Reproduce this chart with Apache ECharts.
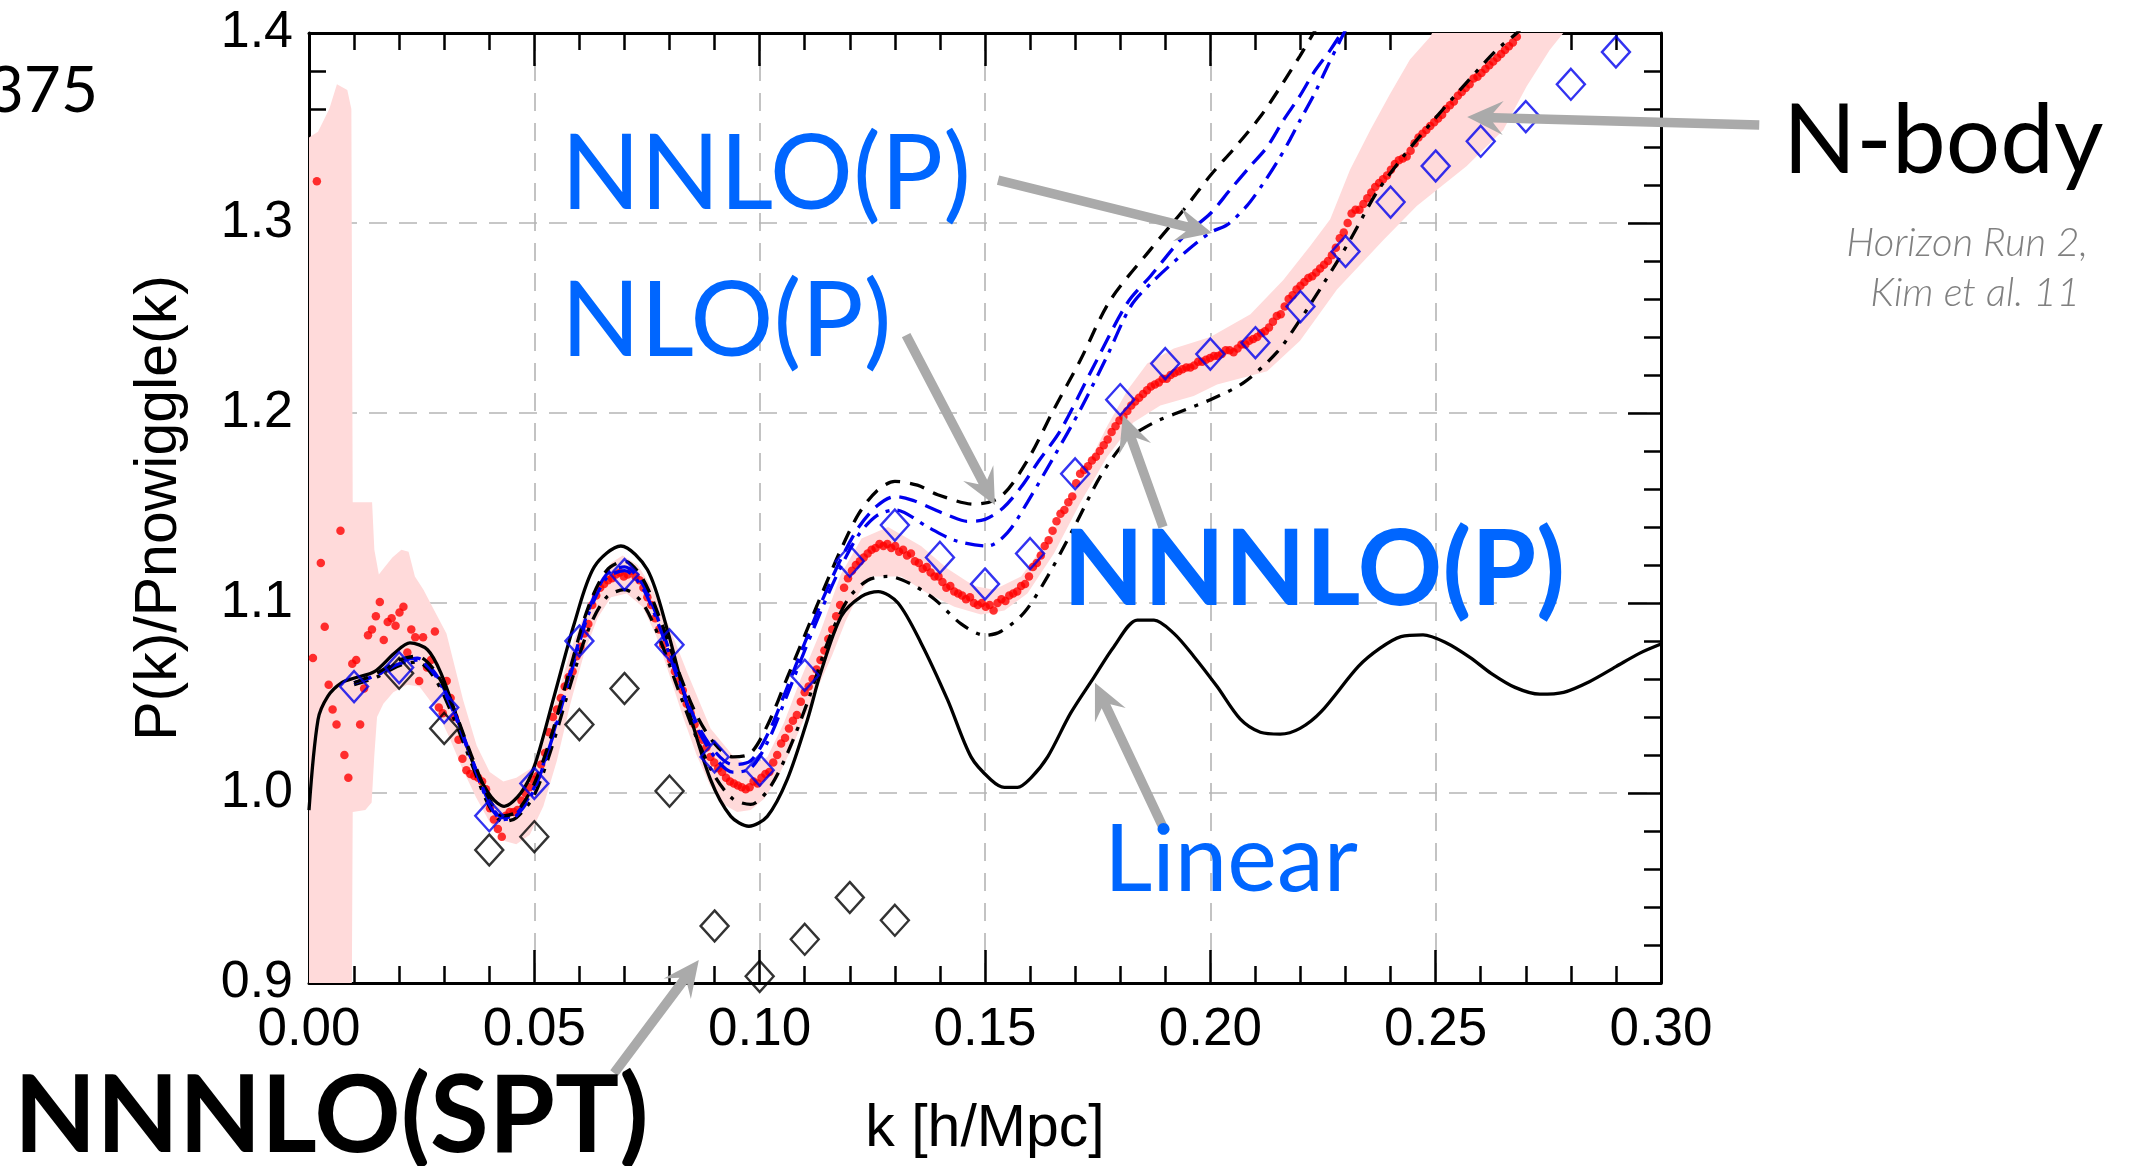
<!DOCTYPE html>
<html><head><meta charset="utf-8">
<script src="https://cdn.jsdelivr.net/npm/echarts/dist/echarts.min.js"></script>
<style>html,body{margin:0;padding:0;background:#fff}#c{width:2132px;height:1166px}</style>
</head><body><div id="c"></div><script>
// ---------- data ----------
const xTickLabels = ['0.00','0.05','0.10','0.15','0.20','0.25','0.30'];
const yTickLabels = ['0.9','1.0','1.1','1.2','1.3','1.4'];

// Linear theory
const linear = [[0,0.991],[0.002,1.0386],[0.0042,1.051],[0.0072,1.058],[0.0101,1.0605],[0.0146,1.064],[0.019,1.0737],[0.0224,1.079],[0.0263,1.0754],[0.0293,1.063],[0.033,1.0386],[0.0367,1.014],[0.0404,0.998],[0.0433,0.993],[0.047,1.0],[0.05,1.014],[0.0544,1.051],[0.0589,1.0895],[0.0633,1.119],[0.0692,1.13],[0.0751,1.1175],[0.0795,1.086],[0.084,1.0456],[0.0891,1.007],[0.0936,0.9877],[0.0976,0.9825],[0.1017,0.9877],[0.1061,1.007],[0.1106,1.0386],[0.1135,1.063],[0.1181,1.093],[0.1226,1.1035],[0.1263,1.106],[0.1307,1.1],[0.1358,1.079],[0.1417,1.049],[0.1469,1.019],[0.1513,1.007],[0.1543,1.003],[0.1572,1.003],[0.1602,1.008],[0.1639,1.019],[0.169,1.042],[0.1742,1.061],[0.1786,1.077],[0.1838,1.091],[0.1875,1.091],[0.1919,1.084],[0.1963,1.072],[0.2015,1.056],[0.2066,1.039],[0.2111,1.032],[0.2155,1.031],[0.2199,1.034],[0.2246,1.0428],[0.2328,1.0665],[0.2376,1.0761],[0.2423,1.0823],[0.2472,1.0832],[0.2523,1.0791],[0.2576,1.0714],[0.2623,1.063],[0.2676,1.0556],[0.2731,1.052],[0.2784,1.053],[0.2841,1.0586],[0.29,1.0665],[0.2952,1.0735],[0.3,1.0784]];

// black dashed (upper)
const nnloBlack = [[0.010,1.058],[0.015,1.063],[0.020,1.070],[0.024,1.072],[0.028,1.064],[0.032,1.045],[0.036,1.020],[0.040,0.997],[0.043,0.988],[0.046,0.990],[0.050,1.005],[0.054,1.032],[0.058,1.066],[0.062,1.098],[0.066,1.117],[0.070,1.122],[0.074,1.113],[0.078,1.091],[0.082,1.064],[0.086,1.041],[0.090,1.026],[0.094,1.019],[0.098,1.021],[0.102,1.037],[0.106,1.060],[0.110,1.083],[0.114,1.106],[0.118,1.128],[0.122,1.147],[0.126,1.159],[0.130,1.164],[0.135,1.162],[0.1395,1.157],[0.1476,1.152],[0.1535,1.156],[0.1594,1.175],[0.1653,1.202],[0.1712,1.228],[0.1777,1.259],[0.1867,1.286],[0.1941,1.307],[0.200,1.325],[0.2052,1.339],[0.2111,1.356],[0.2162,1.374],[0.2199,1.388],[0.2229,1.400],[0.226,1.412]];

// blue dashed
const nnloBlue = [[0.010,1.058],[0.015,1.062],[0.020,1.069],[0.024,1.071],[0.028,1.063],[0.032,1.044],[0.036,1.019],[0.040,0.995],[0.043,0.987],[0.046,0.989],[0.050,1.003],[0.054,1.030],[0.058,1.064],[0.062,1.096],[0.066,1.115],[0.070,1.119],[0.074,1.110],[0.078,1.088],[0.082,1.061],[0.086,1.037],[0.090,1.022],[0.094,1.015],[0.098,1.017],[0.102,1.032],[0.106,1.055],[0.110,1.079],[0.114,1.102],[0.118,1.123],[0.122,1.140],[0.126,1.151],[0.130,1.156],[0.134,1.154],[0.138,1.150],[0.142,1.146],[0.146,1.143],[0.150,1.144],[0.154,1.150],[0.158,1.161],[0.162,1.175],[0.1668,1.191],[0.1742,1.225],[0.1816,1.258],[0.1867,1.272],[0.1941,1.293],[0.200,1.305],[0.2044,1.3175],[0.2089,1.330],[0.2126,1.340],[0.2162,1.354],[0.2199,1.367],[0.2229,1.379],[0.2266,1.391],[0.2296,1.402],[0.232,1.412]];

// blue dash-dot
const nloBlue = [[0.010,1.058],[0.015,1.062],[0.020,1.068],[0.024,1.070],[0.028,1.062],[0.032,1.043],[0.036,1.018],[0.040,0.994],[0.043,0.986],[0.046,0.988],[0.050,1.002],[0.054,1.029],[0.058,1.062],[0.062,1.094],[0.066,1.113],[0.070,1.117],[0.074,1.108],[0.078,1.086],[0.082,1.059],[0.086,1.035],[0.090,1.019],[0.094,1.011],[0.098,1.013],[0.102,1.028],[0.106,1.051],[0.110,1.075],[0.114,1.098],[0.118,1.119],[0.122,1.136],[0.126,1.146],[0.130,1.149],[0.1373,1.140],[0.1432,1.133],[0.1506,1.130],[0.155,1.137],[0.1594,1.153],[0.1653,1.177],[0.1712,1.202],[0.1771,1.230],[0.1823,1.256],[0.1867,1.268],[0.1941,1.284],[0.200,1.295],[0.2037,1.299],[0.2081,1.309],[0.2118,1.321],[0.2148,1.332],[0.2177,1.344],[0.2199,1.354],[0.2229,1.367],[0.2259,1.382],[0.2288,1.396],[0.2303,1.403],[0.233,1.415]];

// black dash-dot (lower)
const nnnloBlack = [[0.010,1.057],[0.015,1.061],[0.020,1.067],[0.024,1.069],[0.028,1.060],[0.032,1.040],[0.036,1.016],[0.040,0.993],[0.043,0.985],[0.046,0.987],[0.050,0.999],[0.054,1.025],[0.058,1.057],[0.062,1.086],[0.066,1.103],[0.070,1.107],[0.074,1.100],[0.078,1.080],[0.082,1.054],[0.086,1.029],[0.090,1.009],[0.094,0.997],[0.098,0.994],[0.102,1.002],[0.106,1.020],[0.1108,1.049],[0.1152,1.080],[0.1196,1.102],[0.124,1.112],[0.1285,1.114],[0.1336,1.110],[0.1388,1.102],[0.1447,1.089],[0.150,1.083],[0.1535,1.085],[0.1587,1.095],[0.1639,1.114],[0.1698,1.140],[0.1757,1.167],[0.1816,1.186],[0.1875,1.195],[0.1926,1.200],[0.200,1.207],[0.2074,1.216],[0.2148,1.232],[0.2199,1.249],[0.2251,1.268],[0.231,1.291],[0.2369,1.316],[0.2428,1.335],[0.2495,1.354],[0.2569,1.374],[0.2635,1.391],[0.268,1.400],[0.272,1.41]];

// blue open diamonds
const blueDiamonds = [[0.01,1.056],[0.02,1.066],[0.03,1.045],[0.04,0.988],[0.05,1.005],[0.06,1.080],[0.07,1.115],[0.08,1.078],[0.09,1.019],[0.10,1.012],[0.11,1.062],[0.12,1.122],[0.13,1.141],[0.14,1.124],[0.15,1.110],[0.16,1.126],[0.17,1.168],[0.18,1.207],[0.19,1.226],[0.20,1.231],[0.21,1.237],[0.22,1.256],[0.23,1.285],[0.24,1.311],[0.25,1.330],[0.26,1.343],[0.27,1.356],[0.28,1.373],[0.29,1.390]];

// black open diamonds: NNNLO(SPT)
const sptDiamonds = [[0.02,1.063],[0.03,1.034],[0.04,0.970],[0.05,0.977],[0.06,1.036],[0.07,1.055],[0.08,1.001],[0.09,0.930],[0.10,0.9035],[0.11,0.923],[0.12,0.945],[0.13,0.933]];

// N-body measurements: uniform k bins of width nbodyDk, values per bin
const nbodyDk = 0.000873;
const nbodyV = [
1.071,1.322,1.121,1.0875,1.057,1.044,1.036,1.138,1.020,1.008,
1.068,1.070,1.036,1.055,1.083,1.086,1.093,1.1005,1.0805,1.090,
1.092,1.088,1.095,1.098,1.074,1.086,1.082,1.059,1.082,1.066,
1.070,1.085,1.045,1.042,1.059,1.050,1.040,1.028,1.018,1.012,
1.010,1.009,1.008,1.006,1.002,0.992,0.986,0.981,0.977,0.988,
0.990,0.990,0.991,0.996,1.000,1.003,1.007,1.009,1.015,1.021,
1.032,1.040,1.044,1.050,1.056,1.061,1.064,1.072,1.077,1.084,
1.089,1.099,1.104,1.108,1.110,1.112,1.113,1.115,1.116,1.114,
1.115,1.117,1.114,1.112,1.108,1.103,1.099,1.092,1.086,1.078,
1.074,1.070,1.064,1.059,1.054,1.047,1.042,1.036,1.031,1.028,
1.024,1.019,1.016,1.013,1.011,1.008,1.006,1.005,1.004,1.003,
1.002,1.003,1.006,1.005,1.008,1.010,1.011,1.016,1.020,1.026,
1.029,1.034,1.038,1.041,1.048,1.053,1.056,1.060,1.065,1.070,
1.075,1.081,1.086,1.093,1.099,1.108,1.113,1.117,1.120,1.122,
1.124,1.126,1.128,1.129,1.131,1.130,1.131,1.129,1.130,1.127,
1.128,1.125,1.126,1.122,1.121,1.118,1.119,1.116,1.114,1.114,
1.111,1.108,1.109,1.106,1.105,1.104,1.102,1.103,1.100,1.099,
1.100,1.098,1.099,1.096,1.100,1.102,1.101,1.104,1.105,1.106,
1.109,1.110,1.114,1.119,1.121,1.125,1.130,1.133,1.138,1.143,
1.147,1.149,1.153,1.156,1.163,1.168,1.170,1.172,1.175,1.177,
1.180,1.183,1.186,1.190,1.193,1.196,1.198,1.201,1.204,1.206,
1.208,1.210,1.212,1.214,1.215,1.216,1.218,1.218,1.220,1.221,
1.222,1.223,1.224,1.224,1.225,1.227,1.227,1.228,1.229,1.230,
1.230,1.231,1.233,1.233,1.232,1.234,1.236,1.236,1.238,1.239,
1.240,1.242,1.243,1.245,1.248,1.251,1.252,1.256,1.260,1.262,
1.265,1.267,1.269,1.271,1.272,1.274,1.276,1.278,1.280,1.283,
1.287,1.292,1.295,1.300,1.305,1.307,1.307,1.310,1.313,1.316,
1.319,1.321,1.323,1.325,1.328,1.331,1.333,1.334,1.335,1.338,
1.342,1.345,1.347,1.349,1.351,1.353,1.355,1.357,1.360,1.362,
1.364,1.367,1.369,1.371,1.373,1.376,1.377,1.379,1.381,1.383,
1.385,1.387,1.389,1.391,1.393,1.395,1.398,1.401];

// N-body error band
const bandUpper = [[0,1.345],[0.002,1.348],[0.0045,1.36],[0.0062,1.373],[0.0085,1.37],[0.0094,1.36],[0.0097,1.153],[0.014,1.153],[0.0145,1.128],[0.0155,1.115],[0.0165,1.118],[0.0185,1.124],[0.0205,1.128],[0.0221,1.127],[0.0235,1.114],[0.0254,1.107],[0.0276,1.097],[0.0305,1.084],[0.0342,1.049],[0.0372,1.025],[0.0401,1.011],[0.0431,1.006],[0.046,1.008],[0.0493,1.013],[0.0515,1.025],[0.0544,1.046],[0.0589,1.081],[0.0633,1.107],[0.067,1.121],[0.0696,1.125],[0.0729,1.12],[0.0759,1.109],[0.0795,1.09],[0.084,1.063],[0.0891,1.034],[0.0943,1.019],[0.098,1.014],[0.1017,1.019],[0.1054,1.037],[0.1091,1.06],[0.1135,1.085],[0.118,1.115],[0.1226,1.134],[0.1285,1.14],[0.1358,1.13],[0.1417,1.118],[0.1476,1.109],[0.152,1.107],[0.158,1.114],[0.1639,1.133],[0.1683,1.151],[0.1727,1.172],[0.1771,1.193],[0.1816,1.212],[0.186,1.226],[0.1919,1.234],[0.2,1.24],[0.2089,1.252],[0.2162,1.27],[0.2222,1.288],[0.2266,1.302],[0.231,1.328],[0.2355,1.349],[0.2399,1.368],[0.2443,1.386],[0.2488,1.398],[0.2532,1.42]];
const bandLower = [[0,0.85],[0.0094,0.85],[0.0097,0.99],[0.0125,0.991],[0.0139,0.995],[0.0145,1.02],[0.0151,1.04],[0.0165,1.047],[0.0187,1.053],[0.0218,1.057],[0.0245,1.056],[0.028,1.045],[0.031,1.03],[0.034,1.013],[0.037,0.998],[0.04,0.985],[0.043,0.975],[0.046,0.973],[0.049,0.978],[0.052,0.993],[0.055,1.017],[0.058,1.047],[0.061,1.073],[0.064,1.092],[0.067,1.103],[0.0705,1.105],[0.074,1.098],[0.077,1.083],[0.08,1.062],[0.083,1.04],[0.086,1.02],[0.089,1.004],[0.092,0.994],[0.095,0.99],[0.098,0.991],[0.101,0.997],[0.104,1.008],[0.107,1.023],[0.11,1.04],[0.113,1.056],[0.116,1.072],[0.119,1.09],[0.122,1.105],[0.1248,1.114],[0.1314,1.114],[0.1373,1.105],[0.1432,1.098],[0.1491,1.094],[0.1543,1.096],[0.1594,1.105],[0.1653,1.126],[0.1712,1.153],[0.1771,1.177],[0.1829,1.195],[0.1889,1.204],[0.1963,1.209],[0.2015,1.215],[0.2126,1.222],[0.2199,1.238],[0.2281,1.265],[0.2384,1.291],[0.2458,1.309],[0.2569,1.33],[0.265,1.349],[0.2702,1.372],[0.2753,1.391],[0.285,1.42]];

// annotation arrows (data coordinates: start -> tip)
const arrows = [
  [[0.1529,1.3226],[0.2004,1.2947]],   // NNLO(P)
  [[0.1325,1.241],[0.1522,1.1516]],    // NLO(P)
  [[0.1895,1.140],[0.1806,1.199]],     // NNNLO(P)
  [[0.1900,0.9795],[0.1744,1.058]],    // Linear
  [[0.3218,1.3516],[0.2570,1.3558]],   // N-body
  [[0.0677,0.8526],[0.0865,0.9121]]    // NNNLO(SPT)
];

// ---------- chart ----------
const chart = echarts.init(document.getElementById('c'), null, {renderer:'canvas'});
const BLK = '#000', BLUE = '#0000ee', TXTBLUE = '#0066ff', GREY = '#aaaaaa';
const FONT = 'Liberation Sans, Arial, Helvetica, sans-serif';
const AFONT = 'Lato, "Open Sans", sans-serif';

const tickCommon = {
  axisLine:{show:true, onZero:false, lineStyle:{color:BLK, width:3}},
  axisTick:{show:true, inside:true, length:33, lineStyle:{color:BLK, width:2.5}},
  minorTick:{show:true, splitNumber:5, length:17, lineStyle:{color:BLK, width:2.5}}
};
const gridLine = {show:true, lineStyle:{color:'#b5b5b5', width:1.6, type:[18,12]}};

function lineS(data, color, type, width){
  return {type:'line', data, symbol:'none', smooth:0.3, clip:true, silent:true, z:4,
          lineStyle:{color, width, type}};
}

const option = {
  animation:false,
  backgroundColor:'#fff',
  grid:{left:309, top:33, width:1352, height:950, containLabel:false},
  xAxis:[
    Object.assign({type:'value', min:0, max:0.3, interval:0.05, position:'bottom',
      splitLine:gridLine,
      axisLabel:{show:true, margin:21, fontSize:53, fontFamily:FONT, color:BLK,
        formatter:(v)=>xTickLabels[Math.round(v/0.05)]},
      name:'k [h/Mpc]', nameLocation:'middle', nameGap:117,
      nameTextStyle:{fontSize:59, fontFamily:FONT, color:BLK}}, tickCommon),
    Object.assign({type:'value', min:0, max:0.3, interval:0.05, position:'top',
      splitLine:{show:false}, axisLabel:{show:false}}, tickCommon)
  ],
  yAxis:[
    Object.assign({type:'value', min:0.9, max:1.4, interval:0.1, position:'left',
      splitLine:gridLine,
      axisLabel:{show:true, margin:16, fontSize:52, fontFamily:FONT, color:BLK,
        formatter:(v)=>yTickLabels[Math.round((v-0.9)/0.1)]},
      name:'P(k)/Pnowiggle(k)', nameLocation:'middle', nameRotate:90, nameGap:120,
      nameTextStyle:{fontSize:59, fontFamily:FONT, color:BLK}}, tickCommon),
    Object.assign({type:'value', min:0.9, max:1.4, interval:0.1, position:'right',
      splitLine:{show:false}, axisLabel:{show:false}}, tickCommon)
  ],
  series:[
    {type:'custom', clip:true, silent:true, z:1, data:[[0.15,1.15]],
      renderItem:(params, api)=>{
        const pts = bandUpper.map(p=>api.coord(p)).concat(bandLower.slice().reverse().map(p=>api.coord(p)));
        return {type:'polygon', shape:{points:pts}, style:{fill:'#ffdada', stroke:null}};
      }},
    {type:'scatter', z:2, silent:true, symbol:'circle', symbolSize:8.5,
      itemStyle:{color:'#ff0000'},
      data: nbodyV.map((v,i)=>[(i+1)*nbodyDk, v])},
    lineS(linear, BLK, 'solid', 3.3),
    lineS(nnnloBlack, BLK, [15,9,4,9], 3.3),
    lineS(nloBlue, BLUE, [18,8,4,8], 3.3),
    lineS(nnloBlue, BLUE, [18,9], 3.3),
    lineS(nnloBlack, BLK, [15,10], 3.3),
    {type:'scatter', z:5, silent:true, symbol:'diamond', symbolSize:[28,31],
      itemStyle:{color:'rgba(0,0,0,0)', borderColor:BLK, borderWidth:2.4},
      data: sptDiamonds},
    {type:'scatter', z:6, silent:true, symbol:'diamond', symbolSize:[28,31],
      itemStyle:{color:'rgba(0,0,0,0)', borderColor:BLUE, borderWidth:2.4},
      data: blueDiamonds}
  ]
};
chart.setOption(option);

// ---------- annotations ----------
function arrowPoly(s, t){
  const dx=t[0]-s[0], dy=t[1]-s[1], L=Math.hypot(dx,dy);
  const ux=dx/L, uy=dy/L, nx=-uy, ny=ux;
  const h=36, hw=17, sw=4.8, j=h*0.72;
  const B=[t[0]-ux*h, t[1]-uy*h], J=[t[0]-ux*j, t[1]-uy*j];
  return [[s[0]+nx*sw, s[1]+ny*sw],[J[0]+nx*sw, J[1]+ny*sw],[B[0]+nx*hw, B[1]+ny*hw],[t[0],t[1]],
          [B[0]-nx*hw, B[1]-ny*hw],[J[0]-nx*sw, J[1]-ny*sw],[s[0]-nx*sw, s[1]-ny*sw]];
}
const graphics = arrows.map(a=>{
  const s = chart.convertToPixel({gridIndex:0}, a[0]);
  const t = chart.convertToPixel({gridIndex:0}, a[1]);
  return {type:'polygon', z:50, silent:true, shape:{points:arrowPoly(s,t)}, style:{fill:GREY}};
});
function txt(text, x, y, font, fill, align){
  return {type:'text', x, y, z:60, silent:true,
    style:{text, font, fill, textAlign:align||'left', textVerticalAlign:'middle'}};
}
graphics.push(
  txt('375', 98, 91, '400 64px '+AFONT, BLK, 'right'),
  txt('NNLO(P)', 561, 175, '400 104px '+AFONT, TXTBLUE),
  txt('NLO(P)', 561, 322, '400 104px '+AFONT, TXTBLUE),
  txt('NNNLO(P)', 1063, 571, '700 105px '+AFONT, TXTBLUE),
  txt('Linear', 1104, 861, '400 94px '+AFONT, TXTBLUE),
  txt('N-body', 1783, 142, '400 96px '+AFONT, BLK),
  txt('Horizon Run 2,', 2088, 243, 'italic 300 40px '+AFONT, '#808080', 'right'),
  txt('Kim et al. 11', 2080, 293, 'italic 300 40px '+AFONT, '#808080', 'right'),
  txt('NNNLO(SPT)', 14, 1117, '700 107px '+AFONT, BLK)
);
chart.setOption({graphic: graphics});
</script></body></html>
